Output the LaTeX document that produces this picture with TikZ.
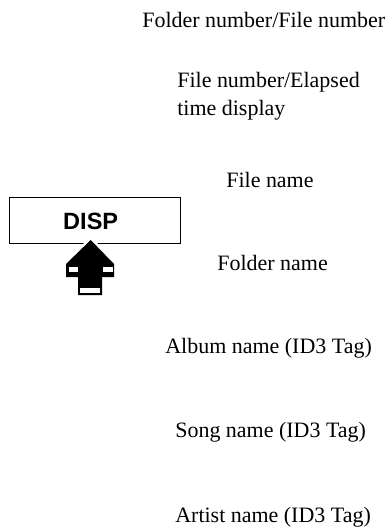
\documentclass[tikz,border=0pt]{standalone}
\usepackage{fontspec}
\setmainfont{Liberation Serif}
\newfontfamily\keyfont{Liberation Sans}
\usetikzlibrary{positioning}

\tikzset{
  lbl/.style={anchor=base west, inner sep=0pt, align=left},
  keybox/.style={draw, line width=1.1pt, minimum width=3.42cm, minimum height=0.92cm, inner sep=0pt}
}
\def\pusharrow{(90.7,240) -- (114,264) -- (114,277) -- (102,277) -- (102,295) -- (78,295) -- (78,277) -- (66,277) -- (66,264) -- cycle}

\begin{document}
\begin{tikzpicture}[x=0.02cm, y=-0.02cm, font=\fontsize{12.5}{15.4}\selectfont]
        \useasboundingbox (0,0) rectangle (391,531);
        % DISP key
        \node[keybox] (dispbox) at (95,220.5) {};
        \node[font=\keyfont\bfseries\fontsize{13.4}{16}\selectfont, anchor=base, inner sep=0pt] (disp) at (90.7,229.3) {DISP};
        \draw[white, line width=0.1cm] \pusharrow;
        \fill[black] \pusharrow;
        \fill[white] (68.5,266.5) rectangle (78,271.5);
        \fill[white] (103,266.5) rectangle (112.5,271.5);
        \fill[white] (80,288.3) rectangle (100,293.3);
        % display modes (base = last line)
        \foreach \x/\y/\nm/\txt in {
            142/27/fnum/{Folder number/File number},
            177/115/elap/{File number/Elapsed\\time display},
            226/187/fname/{File name},
            217/270/dname/{Folder name},
            165/353/album/{Album name (ID3 Tag)},
            175/437/song/{Song name (ID3 Tag)},
            175/522/artist/{Artist name (ID3 Tag)}}
        {
            \node[lbl] (\nm) at (\x,\y) {\txt};
        }
\end{tikzpicture}
\end{document}
